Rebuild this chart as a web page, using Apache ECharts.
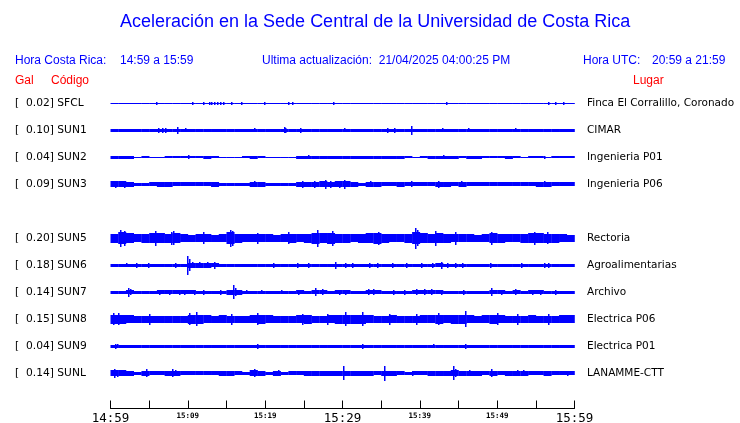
<!DOCTYPE html>
<html><head><meta charset="utf-8">
<script src="https://cdn.jsdelivr.net/npm/echarts@6/dist/echarts.min.js"></script>
<style>html,body{margin:0;padding:0;background:#fff;overflow:hidden}#c{width:740px;height:423px}</style>
</head><body><div id="c"></div><script>
// ---------- data ----------
const stationCodes = ['SFCL','SUN1','SUN2','SUN3','SUN5','SUN6','SUN7','SUN8','SUN9','SUNL'];
const peakGal = [0.02,0.10,0.04,0.09,0.20,0.18,0.14,0.15,0.04,0.14];
const places = ['Finca El Corralillo, Coronado','CIMAR','Ingenieria P01','Ingenieria P06','Rectoria','Agroalimentarias','Archivo','Electrica P06','Electrica P01','LANAMME-CTT'];
const rowSlot = [0,1,2,3,5,6,7,8,9,10];   // SUN4 slot (4) is empty
const timeLabels = ['14:59','','15:09','','15:19','','15:29','','15:39','','15:49','','15:59'];
const majorLabels = ['14:59','15:29','15:59'];

// envelope half-amplitude per minute (counts)
const envSFCL = [0.5,0.5,0.5,0.5,0.5,0.5,0.5,0.5,0.5,0.5,0.5,0.5,0.5,0.5,0.5,0.5,0.5,0.5,0.5,0.5,
0.5,0.5,0.5,0.5,0.5,0.5,0.5,0.5,0.5,0.5,0.5,0.5,0.5,0.5,0.5,0.5,0.5,0.5,0.5,0.5,
0.5,0.5,0.5,0.5,0.5,0.5,0.5,0.5,0.5,0.5,0.5,0.5,0.5,0.5,0.5,0.5,0.5,0.5,0.5,0.5];
const envSUN1 = [1.7,1.7,1.6,1.5,1.6,1.7,1.8,1.7,1.6,1.7,
1.5,1.6,1.7,1.6,1.5,1.7,1.6,1.5,1.6,1.7,
1.5,1.6,1.7,1.8,1.7,1.6,1.7,1.5,1.5,1.6,
1.7,1.7,1.6,1.5,1.6,1.7,1.8,1.6,1.6,1.7,
1.7,1.8,1.7,1.6,1.7,1.7,1.8,1.7,1.7,1.7,
1.6,1.5,1.7,1.6,1.7,1.6,1.7,1.6,1.7,1.7];
const envSUN2 = [1.5,1.3,1.2,0.8,1.0,0.7,0.8,0.9,1.0,1.0,
1.1,1.1,1.2,1.0,0.8,0.6,0.8,0.9,1.3,1.1,
0.5,0.8,0.6,0.7,1.3,1.6,1.6,1.5,1.5,1.4,
1.6,1.5,1.4,1.5,1.5,1.4,1.5,1.4,1.1,0.7,
1.0,1.4,1.5,1.4,1.3,0.9,1.3,1.2,1.1,1.0,
1.1,1.2,1.1,0.8,1.0,0.9,0.8,1.0,1.1,0.9];
const envSUN3 = [3.0,3.0,2.6,1.8,1.7,1.9,2.2,2.3,2.0,1.9,
2.0,2.0,1.9,2.2,1.7,1.6,1.6,1.7,2.4,2.3,
1.6,1.6,1.8,1.7,2.4,2.6,2.8,3.0,2.8,3.0,
2.9,2.6,1.8,2.4,2.2,2.0,2.1,2.2,2.0,1.9,
2.0,2.1,2.6,2.2,2.0,2.3,2.0,1.9,2.0,2.1,
1.9,2.0,2.1,2.0,1.9,2.2,2.4,1.9,2.1,2.0];
const envSUN5 = [4.5,6.0,5.0,4.0,4.5,5.0,5.0,4.5,5.0,4.0,
3.5,4.0,4.0,3.8,4.0,6.0,4.5,4.0,4.0,4.0,
4.0,3.8,4.0,4.2,4.0,4.5,5.5,5.0,5.5,4.8,
4.2,4.0,4.5,5.0,5.5,4.5,4.0,4.0,4.5,6.0,
5.0,4.5,5.0,4.5,4.0,4.0,4.0,3.8,4.0,5.0,
4.2,4.0,4.0,4.5,5.0,5.0,4.5,4.5,4.0,3.8];
const envSUN6 = [1.6,1.6,1.7,1.6,1.6,1.6,1.6,1.6,1.7,1.6,
2.8,2.4,2.3,2.0,1.6,1.6,1.6,1.6,1.6,1.6,
1.6,1.7,1.6,1.6,1.7,1.6,1.8,1.6,1.6,1.8,
1.7,1.6,1.6,1.7,1.7,1.6,1.7,1.6,1.6,1.6,
1.6,1.6,1.9,1.8,1.7,1.7,1.6,1.6,1.6,1.7,
1.6,1.6,1.6,1.7,1.6,1.6,1.8,1.6,1.6,1.6];
const envSUN7 = [1.7,1.8,2.0,1.7,1.7,1.7,1.9,1.9,1.9,1.9,
1.9,1.8,1.8,1.7,1.8,2.2,2.2,1.8,1.7,1.8,
1.7,1.8,1.8,1.7,1.9,1.8,2.0,2.0,1.8,1.9,
1.9,1.7,1.7,2.0,2.0,1.7,1.8,1.8,1.7,2.1,
2.1,2.1,2.1,1.8,1.7,1.8,1.8,1.7,1.7,2.0,
1.9,1.8,1.9,1.8,1.9,1.9,1.7,1.8,1.7,1.7];
const envSUN8 = [4.5,4.2,4.0,3.8,3.8,3.8,3.6,3.5,3.5,3.8,
4.2,4.5,4.0,3.8,4.0,3.8,3.6,3.8,4.0,4.5,
4.0,3.8,3.6,3.8,4.0,4.2,3.8,3.8,4.0,4.2,
4.8,4.5,4.2,4.0,3.8,3.8,4.0,3.8,3.8,3.8,
4.0,4.0,4.5,4.0,4.2,4.5,4.0,3.8,4.0,4.2,
4.0,3.8,3.8,3.8,4.0,3.8,3.8,3.8,4.0,4.0];
const envSUN9 = [1.8,1.5,1.4,1.4,1.4,1.4,1.4,1.4,1.4,1.4,
1.4,1.4,1.4,1.5,1.5,1.4,1.4,1.5,1.5,1.5,
1.5,1.4,1.4,1.4,1.4,1.4,1.4,1.4,1.4,1.4,
1.4,1.4,1.5,1.4,1.4,1.4,1.4,1.4,1.4,1.4,
1.4,1.4,1.4,1.4,1.4,1.5,1.4,1.4,1.4,1.4,
1.4,1.4,1.4,1.4,1.4,1.4,1.4,1.4,1.4,1.4];
const envSUNL = [3.0,3.0,2.5,1.8,2.2,2.0,2.0,2.2,2.5,2.0,
2.0,2.0,2.0,2.0,2.2,2.2,2.0,1.8,3.0,2.5,
1.7,2.2,1.7,2.0,2.0,2.2,2.5,2.5,2.5,2.2,
2.8,2.5,2.5,2.2,2.0,2.5,2.2,2.0,1.8,2.0,
2.0,2.2,2.2,2.5,3.0,2.5,2.2,2.2,2.0,2.5,
2.0,2.2,2.5,2.2,2.0,2.0,2.2,2.0,2.0,2.0];

// individual peaks [minute, half-amplitude]
const spkSFCL = [[5.9,1.2],[10.5,1.2],[11.9,1.8],[12.7,1.8],[13.0,1.8],[13.4,1.8],[13.8,1.8],[14.2,1.6],[14.5,1.4],[15.6,1.8],[16.9,1.8],[19.8,1.8],[23.0,1.8],[23.5,1.4],[28.8,1.8],[43.4,1.8],[56.6,1.8],[57.5,1.8],[58.5,1.4]];
const spkSUN1 = [[6.1,2.7],[6.7,2.5],[7.0,2.3],[8.6,3.7],[9.6,2.0],[18.5,2.0],[22.4,3.0],[22.6,2.5],[24.5,2.5],[30.2,2.0],[35.7,2.7],[36.7,2.5],[38.8,4.5],[42.9,2.0],[46.2,2.0],[52.3,2.0]];
const spkSUN2 = [[0.5,1.8],[10.0,2.0],[25.6,2.0],[29.0,1.8],[36.5,1.8],[43.0,2.0],[56.0,1.8]];
const spkSUN3 = [[0.6,3.5],[1.8,3.3],[13.1,2.8],[18.6,3.0],[24.8,3.2],[26.3,3.5],[27.7,4.5],[28.4,3.5],[29.5,3.5],[30.2,4.5],[33.5,3.0],[38.9,3.0],[42.4,3.5],[45.3,3.0],[56.0,3.0]];
const spkSUN5 = [[1.2,8.5],[1.7,7.5],[5.8,7.5],[7.8,6.5],[8.1,7.0],[12.0,6.0],[15.5,8.5],[15.7,7.5],[19.0,5.5],[23.0,6.0],[26.7,8.5],[28.6,7.5],[34.6,6.5],[39.4,10.5],[39.6,8.0],[42.0,7.5],[44.6,6.5],[49.2,6.5],[54.8,6.5],[56.5,6.0]];
const spkSUN6 = [[2.0,2.0],[3.3,2.5],[4.8,2.2],[8.4,2.2],[9.9,9.5],[10.2,6.0],[10.5,3.0],[11.5,3.0],[12.5,3.0],[13.4,3.5],[21.0,2.5],[24.1,2.2],[25.6,2.8],[29.0,3.8],[30.3,2.8],[31.2,2.2],[33.4,2.2],[34.5,2.2],[36.4,2.8],[38.2,2.2],[40.1,2.2],[41.6,2.2],[42.8,3.2],[43.5,2.5],[44.6,2.2],[45.5,2.2],[49.1,2.5],[53.1,2.2],[56.1,2.5],[56.6,2.5]];
const spkSUN7 = [[2.3,4.5],[2.5,3.0],[6.3,2.5],[7.5,2.5],[8.8,2.5],[9.5,2.5],[10.8,2.5],[12.0,2.5],[14.2,2.2],[15.9,7.0],[16.1,4.0],[17.5,2.0],[19.5,2.0],[22.0,2.0],[24.3,2.5],[26.5,4.0],[27.3,3.0],[29.5,2.5],[30.3,2.5],[33.3,3.0],[34.0,3.0],[36.5,2.2],[38.0,2.2],[39.5,3.0],[40.5,3.0],[41.5,3.0],[42.8,2.5],[45.6,2.2],[49.2,4.0],[50.5,2.5],[52.3,3.0],[54.5,2.5],[55.5,2.5],[57.5,2.2]];
const spkSUN8 = [[0.3,6.0],[1.0,6.0],[5.0,5.5],[10.2,6.0],[11.0,7.0],[15.6,5.5],[19.0,6.0],[24.8,5.5],[28.0,5.5],[30.3,7.0],[32.5,7.0],[36.0,5.5],[39.5,5.5],[42.3,6.0],[45.8,8.0],[50.0,6.0],[52.5,5.5],[56.6,5.5]];
const spkSUN9 = [[0.6,2.2],[0.9,2.0],[5.9,1.8],[14.0,1.8],[17.0,1.8],[19.0,2.2],[32.5,2.2],[41.7,2.0],[45.8,2.5]];
const spkSUNL = [[0.4,4.5],[0.9,3.5],[4.6,4.0],[8.0,4.0],[8.3,3.0],[14.2,2.8],[15.5,2.8],[18.5,4.0],[18.8,3.0],[21.6,3.0],[26.3,2.8],[28.0,2.8],[30.1,7.0],[31.7,2.8],[35.4,7.5],[39.0,2.5],[42.6,2.5],[44.3,7.0],[44.6,4.0],[46.4,3.0],[49.2,4.0],[52.5,3.0],[53.4,3.0],[56.0,2.8],[59.0,2.5]];

const envelopes = [envSFCL,envSUN1,envSUN2,envSUN3,envSUN5,envSUN6,envSUN7,envSUN8,envSUN9,envSUNL];
const peaks = [spkSFCL,spkSUN1,spkSUN2,spkSUN3,spkSUN5,spkSUN6,spkSUN7,spkSUN8,spkSUN9,spkSUNL];

// ---------- chart ----------
const COUNTS_PER_ROW = 27;
const BLUE = '#0000ff';
const chart = echarts.init(document.getElementById('c'), null, {renderer:'canvas', width:740, height:423});

function rowLabel(v){
  const k = rowSlot.indexOf(v);
  if (k < 0) return '';
  return '[' + peakGal[k].toFixed(2).padStart(6, ' ') + '] ' + stationCodes[k];
}
function placeLabel(v){
  const k = rowSlot.indexOf(v);
  return k < 0 ? '' : places[k];
}

// one item per station per minute
const envData = [];
envelopes.forEach((env, k) => env.forEach((a, m) => envData.push([m, rowSlot[k], a])));
const peakData = [];
peaks.forEach((list, k) => list.forEach(p => peakData.push([p[0], rowSlot[k], p[1]])));

const yBase = {
  type:'value', inverse:true, min:-1, max:11.3, interval:1,
  axisLine:{show:false}, axisTick:{show:false}, splitLine:{show:false}
};

chart.setOption({
  animation:false,
  backgroundColor:'#ffffff',
  grid:{left:110.5, width:464, top:76.3, bottom:14.5, containLabel:false, outerBoundsMode:'none'},
  xAxis:{
    type:'value', min:0, max:60, interval:5,
    axisLine:{show:true, onZero:false, lineStyle:{color:'#000', width:1}},
    axisTick:{show:true, inside:true, length:8, lineStyle:{color:'#000', width:1}},
    splitLine:{show:false},
    axisLabel:{
      margin:3, showMinLabel:true, showMaxLabel:true,
      formatter:function(v){
        const t = timeLabels[Math.round(v/5)];
        if (!t) return '';
        return majorLabels.indexOf(t) >= 0 ? '{big|' + t + '}' : '{small|' + t + '}';
      },
      rich:{
        big:{fontFamily:'DejaVu Sans Mono', fontSize:12.5, color:'#000', padding:[1,0,0,0]},
        small:{fontFamily:'DejaVu Sans Mono', fontSize:7.5, fontWeight:'bold', color:'#000', padding:[1,0,0,0]}
      }
    }
  },
  yAxis:[
    Object.assign({}, yBase, {position:'left', axisLabel:{
      align:'left', margin:95.5, showMaxLabel:false, showMinLabel:false,
      fontFamily:'DejaVu Sans', fontSize:10.7, color:'#000', formatter:rowLabel}}),
    Object.assign({}, yBase, {position:'right', axisLabel:{
      align:'left', margin:12.5, showMaxLabel:false, showMinLabel:false,
      fontFamily:'DejaVu Sans', fontSize:10.5, color:'#000', formatter:placeLabel}})
  ],
  series:[
    {
      type:'custom', coordinateSystem:'cartesian2d', yAxisIndex:0, silent:true,
      data:envData,
      renderItem:function(params, api){
        const m = api.value(0), row = api.value(1), a = api.value(2);
        const p1 = api.coord([m, row - a/COUNTS_PER_ROW]);
        const p2 = api.coord([m + 1, row + a/COUNTS_PER_ROW]);
        const y1 = Math.round(p1[1]), y2 = Math.max(Math.round(p2[1]), y1 + 1);
        return {type:'rect', shape:{x:p1[0], y:y1, width:p2[0]-p1[0]+0.3, height:y2-y1}, style:{fill:BLUE}};
      }
    },
    {
      type:'custom', coordinateSystem:'cartesian2d', yAxisIndex:0, silent:true,
      data:peakData,
      renderItem:function(params, api){
        const m = api.value(0), row = api.value(1), a = api.value(2);
        const p1 = api.coord([m, row - a/COUNTS_PER_ROW]);
        const p2 = api.coord([m, row + a/COUNTS_PER_ROW]);
        const x = Math.round(p1[0]);
        return {type:'rect', shape:{x:x, y:Math.round(p1[1]), width:1.5, height:Math.round(p2[1])-Math.round(p1[1])}, style:{fill:BLUE}};
      }
    }
  ],
  graphic:[
    {type:'text', left:120, top:13, style:{text:'Aceleración en la Sede Central de la Universidad de Costa Rica', fontFamily:'Liberation Sans', fontSize:18, fill:BLUE}},
    {type:'text', left:15, top:54.5, style:{text:'Hora Costa Rica:', fontFamily:'Liberation Sans', fontSize:12, fill:BLUE}},
    {type:'text', left:120, top:54.5, style:{text:'14:59 a 15:59', fontFamily:'Liberation Sans', fontSize:12, fill:BLUE}},
    {type:'text', left:262, top:54.5, style:{text:'Ultima actualización:  21/04/2025 04:00:25 PM', fontFamily:'Liberation Sans', fontSize:12, fill:BLUE}},
    {type:'text', left:583, top:54.5, style:{text:'Hora UTC:', fontFamily:'Liberation Sans', fontSize:12, fill:BLUE}},
    {type:'text', left:652, top:54.5, style:{text:'20:59 a 21:59', fontFamily:'Liberation Sans', fontSize:12, fill:BLUE}},
    {type:'text', left:15, top:74.5, style:{text:'Gal', fontFamily:'Liberation Sans', fontSize:12, fill:'#ff0000'}},
    {type:'text', left:51, top:74.5, style:{text:'Código', fontFamily:'Liberation Sans', fontSize:12, fill:'#ff0000'}},
    {type:'text', left:633, top:74.5, style:{text:'Lugar', fontFamily:'Liberation Sans', fontSize:12, fill:'#ff0000'}}
  ]
});
</script></body></html>
